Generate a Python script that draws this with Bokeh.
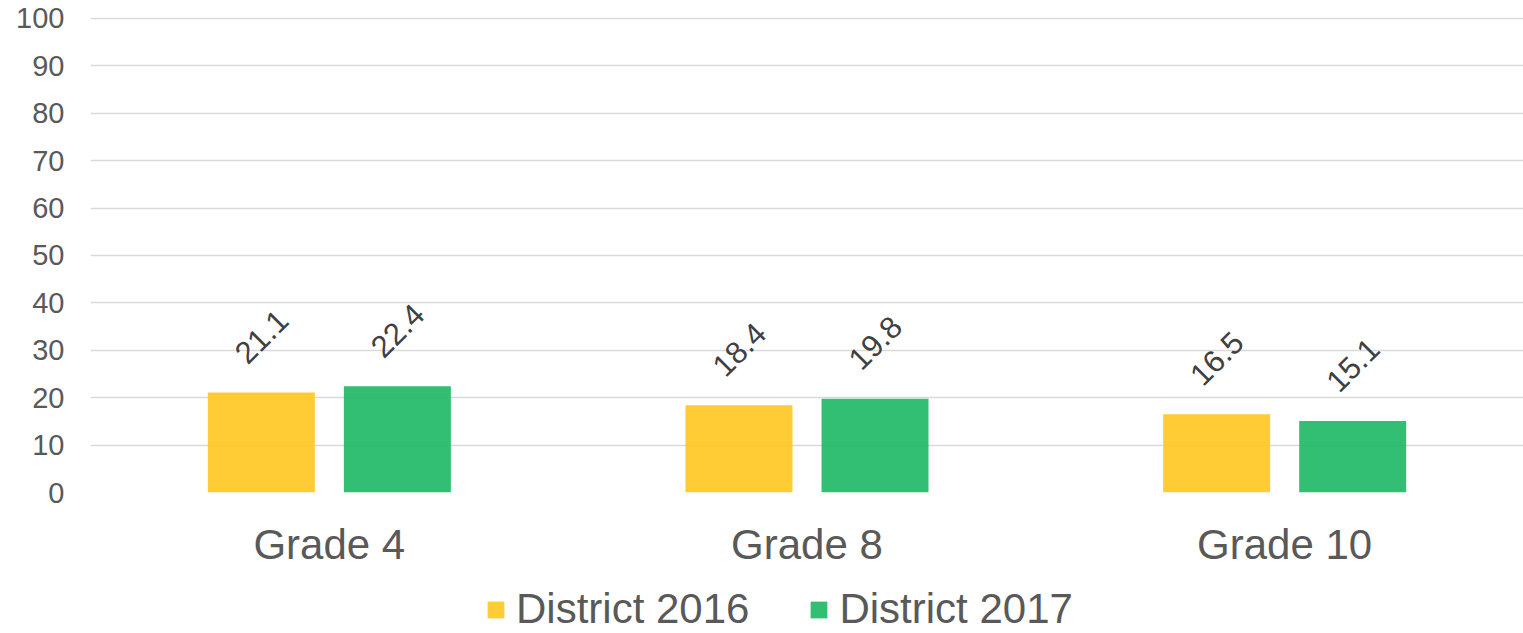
import math
from bokeh.plotting import figure
from bokeh.layouts import column
from bokeh.models import (ColumnDataSource, FactorRange, Range1d, Legend, LegendItem,
                          FixedTicker)
from bokeh.transform import dodge
from bokeh.core.properties import value
from bokeh.embed import file_html
from bokeh.resources import INLINE

categories = ["Grade 4", "Grade 8", "Grade 10"]
series_names = ["District 2016", "District 2017"]
district_2016 = [21.1, 18.4, 16.5]
district_2017 = [22.4, 19.8, 15.1]
y_ticks = [0, 10, 20, 30, 40, 50, 60, 70, 80, 90, 100]

FONT = "Liberation Sans"
YELLOW = "#FFC61F"
GREEN = "#1CB865"

src = ColumnDataSource(dict(
    cat=categories,
    d16=district_2016,
    d17=district_2017,
    t16=[f"{v:.1f}" for v in district_2016],
    t17=[f"{v:.1f}" for v in district_2017],
))

MAIN_H = 583
p = figure(width=1523, height=MAIN_H, output_backend="svg", toolbar_location=None,
           x_range=FactorRange(*categories, range_padding=0),
           y_range=Range1d(0, 100.2),
           min_border_left=90, min_border_right=0, min_border_top=17,
           min_border_bottom=MAIN_H - 492)
p.outline_line_color = None
p.background_fill_color = "white"
p.border_fill_color = "white"

off = 0.1424
bw = 0.224
r16 = p.vbar(x=dodge("cat", -off, range=p.x_range), top="d16", width=bw, source=src,
             fill_color=YELLOW, fill_alpha=0.9, line_color=None)
r17 = p.vbar(x=dodge("cat", off, range=p.x_range), top="d17", width=bw, source=src,
             fill_color=GREEN, fill_alpha=0.9, line_color=None)

for col, tcol, dx in (("d16", "t16", -off), ("d17", "t17", off)):
    p.text(x=dodge("cat", dx, range=p.x_range), y=col, text=tcol, source=src,
           angle=math.pi / 4, y_offset=-56,
           text_align="center", text_baseline="middle",
           text_font=value(FONT), text_font_size="31px", text_color="#404040")

# axes
p.yaxis.ticker = FixedTicker(ticks=y_ticks)
p.yaxis.axis_line_color = None
p.yaxis.major_tick_line_color = None
p.yaxis.minor_tick_line_color = None
p.yaxis.major_tick_out = 0
p.yaxis.major_label_standoff = 26
p.yaxis.major_label_text_font = FONT
p.yaxis.major_label_text_font_size = "29px"
p.yaxis.major_label_text_color = "#595959"

p.xaxis.axis_line_color = None
p.xaxis.major_tick_line_color = None
p.xaxis.minor_tick_line_color = None
p.xaxis.major_tick_out = 0
p.xaxis.major_label_standoff = 28
p.xaxis.major_label_text_font = FONT
p.xaxis.major_label_text_font_size = "42px"
p.xaxis.major_label_text_color = "#595959"

p.xgrid.grid_line_color = None
p.ygrid.ticker = FixedTicker(ticks=y_ticks)
p.ygrid.grid_line_color = "#D9D9D9"
p.ygrid.grid_line_width = 1.5

# legend strip (same series, renderers hidden; only their legend swatches show)
LEG_H = 633 - MAIN_H
lg = figure(width=1523, height=LEG_H, output_backend="svg", toolbar_location=None,
            x_range=FactorRange(*categories), y_range=Range1d(0, 1),
            x_axis_location=None, y_axis_location=None,
            min_border_left=0, min_border_right=0, min_border_top=0,
            min_border_bottom=0)
lg.grid.visible = False
lg.outline_line_color = None
l16 = lg.vbar(x="cat", top="d16", width=bw, source=src, fill_color=YELLOW,
              fill_alpha=0.9, line_color=None, visible=False)
l17 = lg.vbar(x="cat", top="d17", width=bw, source=src, fill_color=GREEN,
              fill_alpha=0.9, line_color=None, visible=False)
legend = Legend(items=[LegendItem(label=series_names[0], renderers=[l16]),
                       LegendItem(label=series_names[1], renderers=[l17])],
                orientation="horizontal", location=(395, 0),
                label_text_font=FONT, label_text_font_size="42px",
                label_text_color="#595959", label_height=42,
                glyph_width=21, glyph_height=21, label_standoff=10,
                spacing=59, padding=0, margin=0,
                inactive_fill_alpha=0,
                border_line_color=None, background_fill_alpha=0)
lg.add_layout(legend, "center")

layout = column(p, lg, spacing=0)
open("out.html", "w").write(file_html(layout, INLINE))
